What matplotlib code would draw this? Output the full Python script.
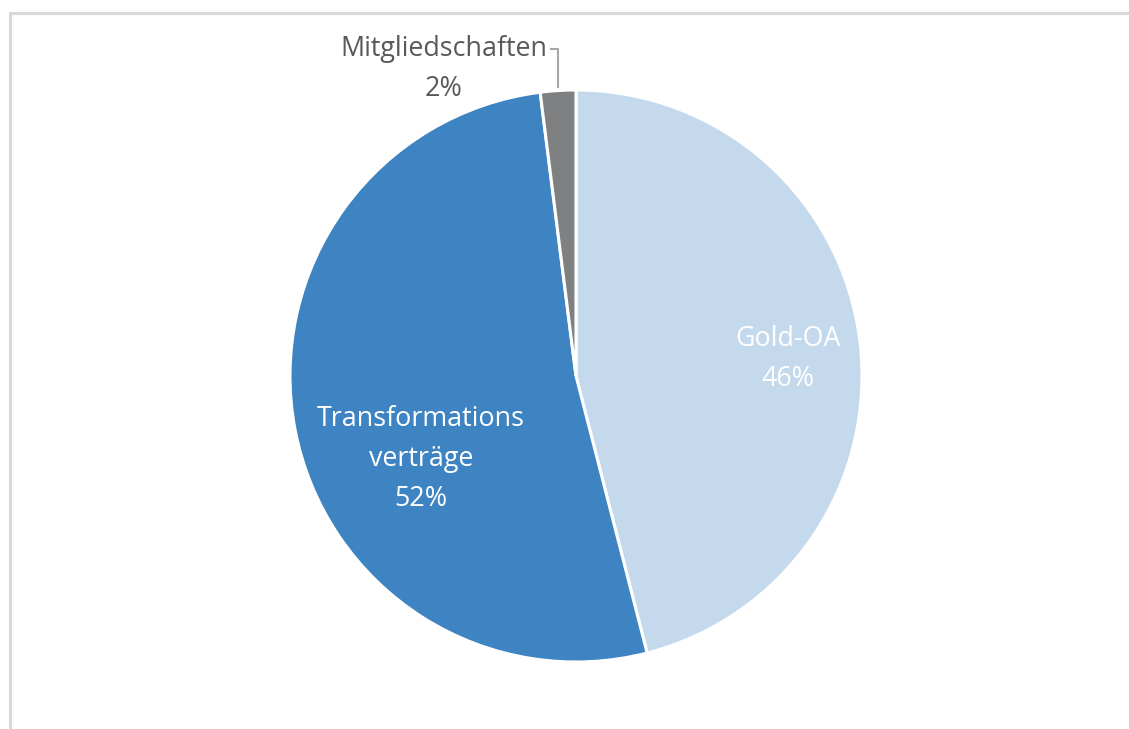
import matplotlib.pyplot as plt
from matplotlib.patches import Rectangle

# Daten
kategorien = ["Gold-OA", "Transformations\nverträge", "Mitgliedschaften"]
anteile = [46, 52, 2]
farben = ["#c5d9ed", "#3f84c2", "#7f8082"]
textfarben = ["white", "white", "#595959"]

# Label-Positionen relativ zum Mittelpunkt (in Radien)
label_pos = [(0.741, 0.06), (-0.542, -0.29), (-0.462, 1.073)]

plt.rcParams["font.family"] = ["Open Sans", "DejaVu Sans"]

W, H = 1129, 729
fig = plt.figure(figsize=(W / 100, H / 100), dpi=100)
ax = fig.add_axes([0, 0, 1, 1])

# Rahmen (nur oben und links sichtbar)
ax.add_patch(Rectangle((10, -20), W + 40, H - 13 + 20, fill=False,
                       edgecolor="#d9d9d9", linewidth=2.2))

cx, cy, R = 576, H - 376, 286

wedges, _ = ax.pie(anteile, colors=farben, startangle=90, counterclock=False,
                   center=(cx, cy), radius=R, frame=True,
                   wedgeprops=dict(edgecolor="white", linewidth=2.2))
ax.set_xlim(0, W)
ax.set_ylim(0, H)
ax.set_aspect("equal")
ax.axis("off")

for name, wert, (dx, dy), tc in zip(kategorien, anteile, label_pos, textfarben):
    ax.text(cx + dx * R, cy + dy * R, f"{name}\n{wert}%", ha="center", va="center",
            fontsize=19.4, color=tc, linespacing=1.57)

# Führungslinie für Mitgliedschaften
ax.plot([cx - 0.087 * R, cx - 0.063 * R, cx - 0.063 * R],
        [cy + 1.143 * R, cy + 1.143 * R, cy + 1.01 * R],
        color="#a6a6a6", linewidth=1.5)

fig.savefig("out.png", dpi=100, facecolor="white")
